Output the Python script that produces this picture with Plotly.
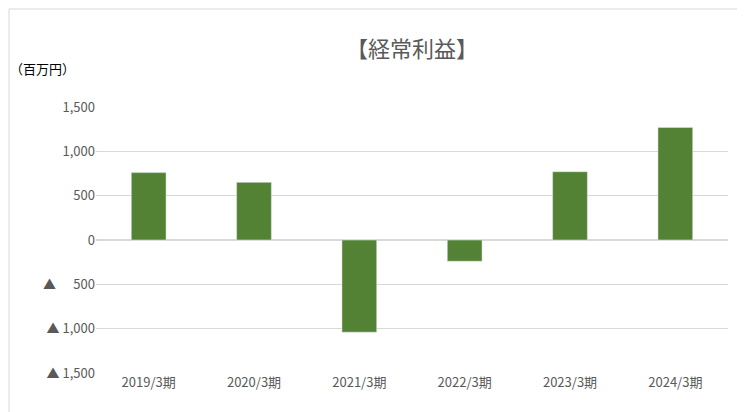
import plotly.graph_objects as go

categories = ["2019/3期", "2020/3期", "2021/3期", "2022/3期", "2023/3期", "2024/3期"]
values = [760, 650, -1040, -240, 770, 1270]
tick_vals = [1500, 1000, 500, 0, -500, -1000, -1500]
tick_text = ["1,500", "1,000", "500", "0", "▲\u2007\u2007 500", "▲ 1,000", "▲ 1,500"]

font = "Noto Sans CJK JP"
fig = go.Figure(go.Bar(x=categories, y=values, marker_color="#548235", width=0.33))
fig.update_layout(
    width=745, height=412, paper_bgcolor="white", plot_bgcolor="white",
    margin=dict(l=88, r=25, t=99, b=47), showlegend=False,
    font=dict(family=font, size=13, color="#595959"),
    title=dict(text="【経常利益】", x=0.5, xanchor="center", xref="paper",
               yref="container", y=0.9, yanchor="middle",
               font=dict(size=22, color="#595959", family=font)),
    annotations=[dict(text="（百万円）", xref="paper", yref="paper", x=-0.14, y=1.1,
                      xanchor="left", yanchor="bottom", showarrow=False,
                      font=dict(size=13, color="#000000", family=font))],
    shapes=[dict(type="rect", xref="paper", yref="paper", x0=-87/632, x1=1+24/632,
                 y0=-46/266, y1=1+98/266, line=dict(color="#d9d9d9", width=1))],
)
fig.update_yaxes(range=[-1500, 1500], tickvals=tick_vals, ticktext=tick_text,
                 gridcolor="#d9d9d9", zeroline=True, zerolinecolor="#d9d9d9",
                 ticks="", ticklen=0, showline=False, automargin=False)
fig.update_xaxes(showline=False, ticks="", automargin=False)
fig.write_html("out.html")
